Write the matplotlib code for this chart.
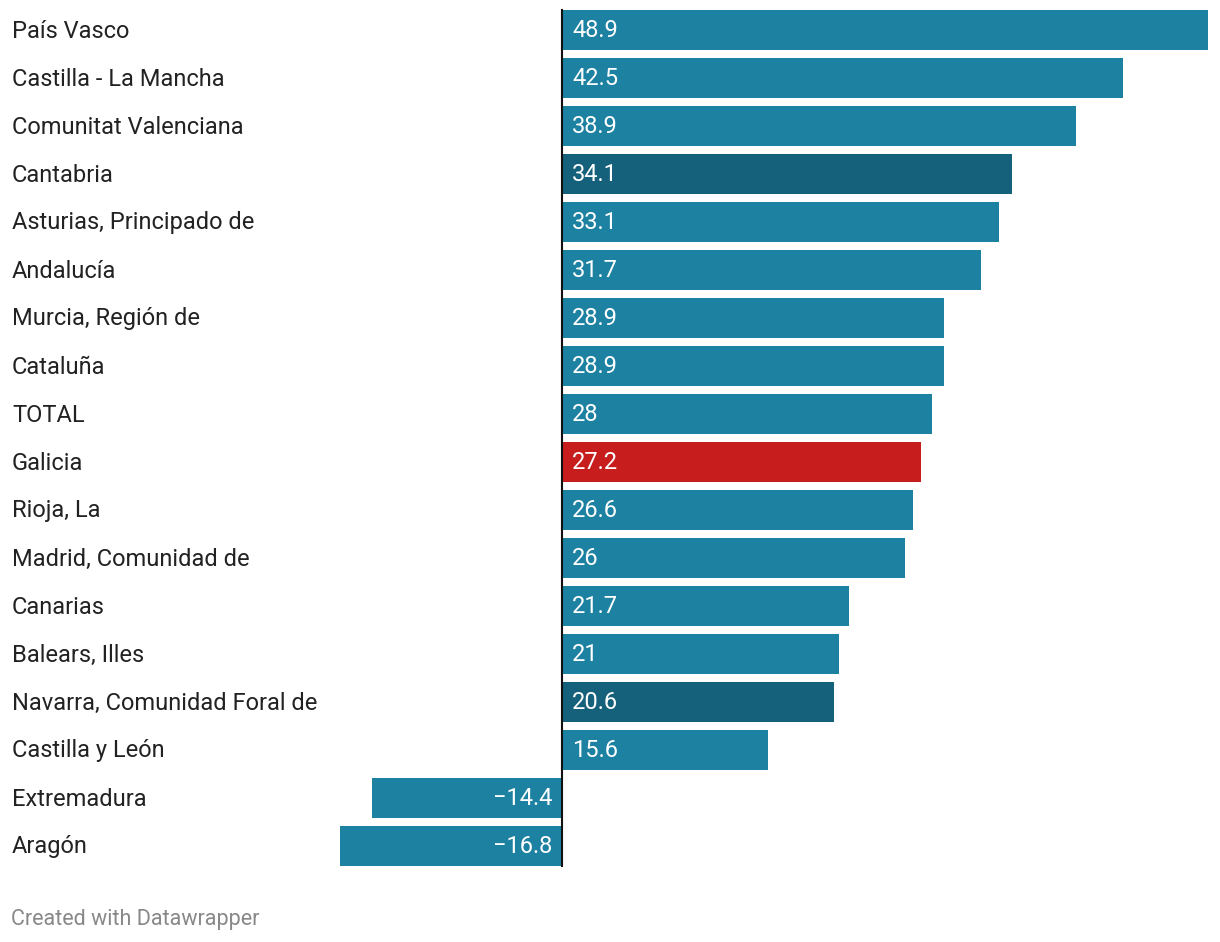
import matplotlib.pyplot as plt

plt.rcParams['font.family'] = ['Roboto', 'DejaVu Sans']

regiones = ["País Vasco", "Castilla - La Mancha", "Comunitat Valenciana", "Cantabria",
            "Asturias, Principado de", "Andalucía", "Murcia, Región de", "Cataluña",
            "TOTAL", "Galicia", "Rioja, La", "Madrid, Comunidad de", "Canarias",
            "Balears, Illes", "Navarra, Comunidad Foral de", "Castilla y León",
            "Extremadura", "Aragón"]
valores = [48.9, 42.5, 38.9, 34.1, 33.1, 31.7, 28.9, 28.9, 28, 27.2, 26.6, 26,
           21.7, 21, 20.6, 15.6, -14.4, -16.8]
etiquetas = ["48.9", "42.5", "38.9", "34.1", "33.1", "31.7", "28.9", "28.9", "28",
             "27.2", "26.6", "26", "21.7", "21", "20.6", "15.6", "\u221214.4", "\u221216.8"]

azul = "#1d81a2"
azul_oscuro = "#15607a"
rojo = "#c71e1d"
destacados = {"Cantabria": azul_oscuro, "Navarra, Comunidad Foral de": azul_oscuro, "Galicia": rojo}
colores = [destacados.get(r, azul) for r in regiones]

W, H = 1220, 942
fig = plt.figure(figsize=(W / 100, H / 100), dpi=100)
ax = fig.add_axes([340 / W, 1 - 870 / H, 868 / W, 864 / H])

pos = list(range(len(regiones)))
ax.barh(pos, valores, height=40 / 48, color=colores)
ax.set_xlim(min(valores), max(valores))
ax.set_ylim(len(regiones) - 0.5, -0.5)
ax.axvline(0, ymin=4 / 864, ymax=860 / 864, color="#111111", lw=1.5)
ax.axis("off")

dx = 10 * (max(valores) - min(valores)) / 868
for p, v, t, r in zip(pos, valores, etiquetas, regiones):
    if v >= 0:
        ax.text(dx, p + 0.02, t, ha="left", va="center", color="white", fontsize=17)
    else:
        ax.text(-dx, p + 0.02, t, ha="right", va="center", color="white", fontsize=17)
    fig.text(12 / W, 1 - (31 + 48 * p) / H, r, ha="left", va="center",
             color="#222222", fontsize=17)

fig.text(11 / W, 1 - 919 / H, "Created with Datawrapper", ha="left", va="center",
         color="#888888", fontsize=15.5)

fig.savefig("out.png", dpi=100, facecolor="white")
